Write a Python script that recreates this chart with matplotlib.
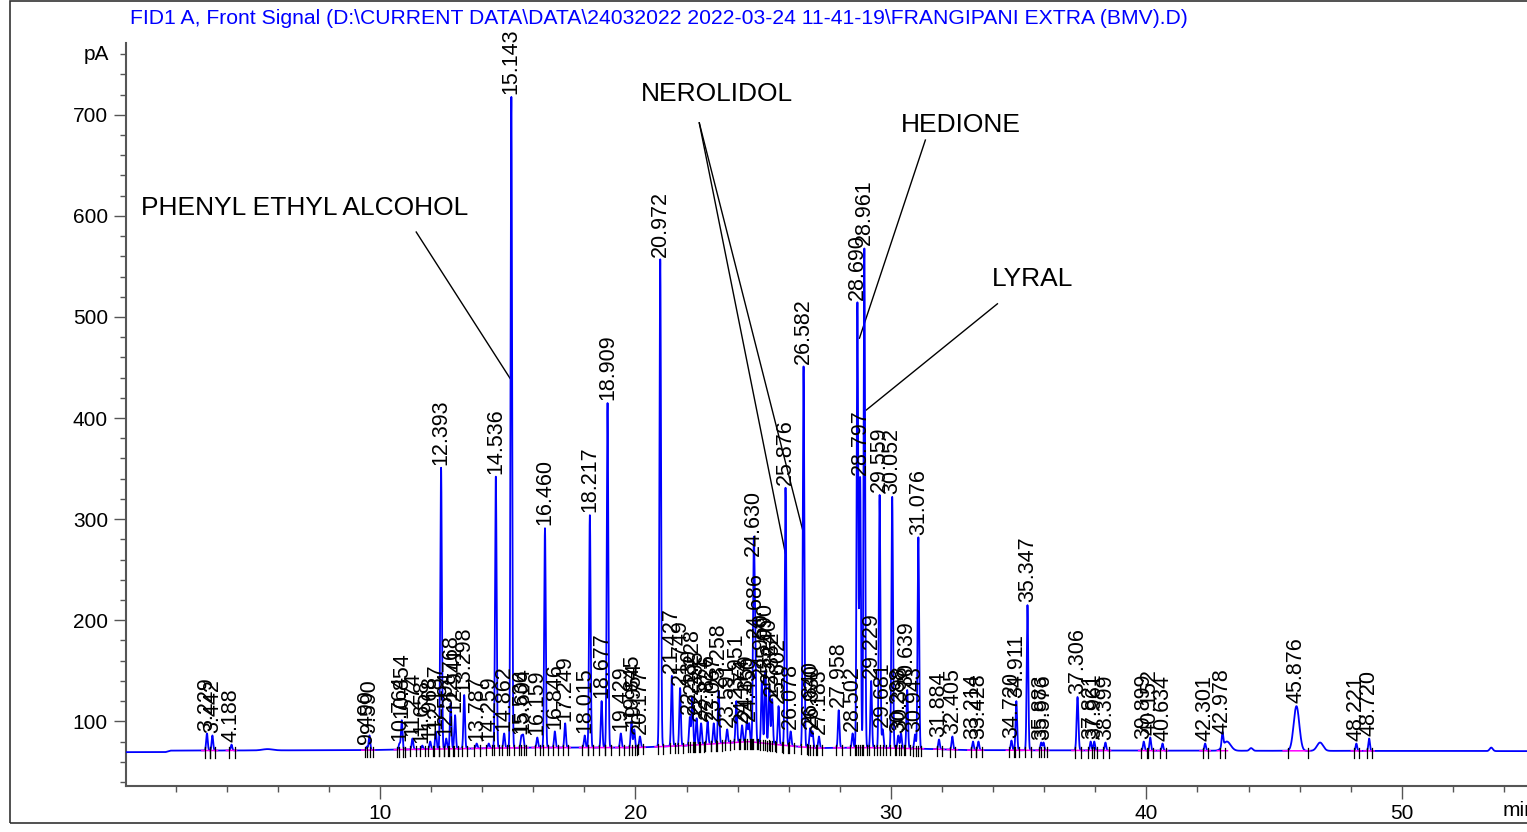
import numpy as np
import matplotlib.pyplot as plt
from matplotlib.patches import Rectangle
from matplotlib.ticker import MultipleLocator

plt.rcParams['font.family'] = ['Liberation Sans', 'DejaVu Sans']

title = "FID1 A, Front Signal (D:\\CURRENT DATA\\DATA\\24032022 2022-03-24 11-41-19\\FRANGIPANI EXTRA (BMV).D)"

# labelled peaks: retention time (min), apex (pA)
peak_rt = [3.229, 3.442, 4.188, 9.490, 9.590, 10.764, 10.854, 11.274, 11.658, 11.968,
           12.187, 12.393, 12.594, 12.768, 12.941, 13.298, 13.787, 14.259, 14.536, 14.862,
           15.143, 15.536, 15.604, 16.159, 16.460, 16.846, 17.249, 18.015, 18.217, 18.677,
           18.909, 19.429, 19.845, 19.954, 20.177, 20.972, 21.427, 21.749, 22.130, 22.228,
           22.395, 22.571, 22.826, 23.067, 23.258, 23.591, 23.951, 24.174, 24.359, 24.450,
           24.630, 24.686, 24.950, 25.090, 25.240, 25.352, 25.602, 25.876, 26.078, 26.582,
           26.840, 26.930, 27.183, 27.958, 28.502, 28.690, 28.797, 28.961, 29.229, 29.559,
           29.681, 30.052, 30.288, 30.398, 30.639, 30.943, 31.076, 31.884, 32.405, 33.214,
           33.428, 34.720, 34.911, 35.347, 35.883, 35.976, 37.306, 37.821, 37.961, 38.399,
           39.899, 40.152, 40.634, 42.301, 42.978, 45.876, 48.221, 48.720]
peak_h = [88, 86, 77, 75, 86, 78, 101, 83, 76, 80,
          90, 351, 83, 118, 106, 126, 78, 78, 342, 88,
          718, 85, 86, 84, 291, 90, 98, 86, 304, 120,
          415, 88, 100, 92, 85, 557, 145, 133, 104, 124,
          103, 98, 100, 98, 130, 92, 120, 96, 100, 98,
          261, 180, 140, 150, 135, 122, 115, 331, 90, 451,
          93, 90, 85, 111, 88, 514, 341, 568, 140, 324,
          92, 322, 86, 88, 131, 87, 282, 82, 85, 80,
          80, 81, 120, 215, 79, 79, 124, 80, 80, 79,
          80, 84, 78, 78, 85, 115, 78, 83]
peak_w = [0.03] * len(peak_rt)
peak_w[peak_rt.index(45.876)] = 0.11
peak_w[peak_rt.index(37.306)] = 0.035

# unlabelled bumps
bump_rt = [5.6, 43.15, 44.1, 46.8, 53.5]
bump_h = [72.5, 80, 73.5, 79, 74]
bump_w = [0.2, 0.15, 0.06, 0.12, 0.06]

# detector baseline knots (min, pA)
base_t = [0, 1.6, 1.8, 9.5, 12, 16, 20, 22, 24.4, 25.5, 27, 29, 31, 33, 40, 55]
base_v = [69.5, 69.5, 71, 71.5, 72.5, 74, 74, 76, 80, 77, 73.5, 74, 73, 71.5, 71, 70.5]

t = np.arange(0, 55, 0.002)
base = np.interp(t, base_t, base_v)
sig = base.copy()
for rt, h, w in zip(peak_rt + bump_rt, peak_h + bump_h, peak_w + bump_w):
    amp = h - np.interp(rt, base_t, base_v)
    sig += amp * np.exp(-0.5 * ((t - rt) / w) ** 2)

fig = plt.figure(figsize=(15.27, 8.32), dpi=100)
fig.patches.append(Rectangle((10 / 1527, 9 / 832), 1.0, 822 / 832, transform=fig.transFigure,
                             fill=False, edgecolor='#333333', lw=1.2))
ax = fig.add_axes([126 / 1527, 46 / 832, 1 - 126 / 1527, (786 - 43) / 832])

ax.plot(t, sig, color='#0000ff', lw=1.3, zorder=3)

# integration baselines and marks
mask = np.zeros_like(t, dtype=bool)
for rt, w in zip(peak_rt, peak_w):
    mask |= np.abs(t - rt) < 4 * w + 0.08
ax.plot(t, np.where(mask, base, np.nan), color='#ff00ff', lw=1.1, zorder=4)
for rt, w in zip(peak_rt, peak_w):
    b = np.interp(rt, base_t, base_v)
    for m in (rt - 3 * w, rt + 4 * w):
        ax.plot([m, m], [b - 7, b + 3], color='black', lw=0.9, zorder=5)

for rt, h in zip(peak_rt, peak_h):
    ax.annotate(f"{rt:.3f}", (rt, h), xytext=(0, 2), textcoords='offset points',
                rotation=90, ha='center', va='bottom', fontsize=15.5, zorder=6)

# compound annotations
ax.text(0.64, 608, "PHENYL ETHYL ALCOHOL", fontsize=19, va='center')
ax.plot([11.42, 15.1], [584, 439], color='black', lw=1)
ax.text(20.23, 721, "NEROLIDOL", fontsize=19, va='center')
ax.plot([22.5, 25.87], [692, 266], color='black', lw=1)
ax.plot([22.5, 26.58], [692, 286], color='black', lw=1)
ax.text(30.41, 690, "HEDIONE", fontsize=19, va='center')
ax.plot([31.35, 28.77], [675, 479], color='black', lw=1)
ax.text(33.97, 538, "LYRAL", fontsize=19, va='center')
ax.plot([34.17, 29.04], [513, 408], color='black', lw=1)

ax.set_xlim(0.06, 54.9)
ax.set_ylim(36, 771)
for s in ('top', 'right'):
    ax.spines[s].set_visible(False)
for s in ('left', 'bottom'):
    ax.spines[s].set_color('#555555')
    ax.spines[s].set_linewidth(1.5)
ax.xaxis.set_major_locator(MultipleLocator(10))
ax.xaxis.set_minor_locator(MultipleLocator(2))
ax.yaxis.set_major_locator(MultipleLocator(100))
ax.yaxis.set_minor_locator(MultipleLocator(20))
ax.set_yticks([100, 200, 300, 400, 500, 600, 700])
ax.tick_params(axis='both', which='major', labelsize=15, length=9, width=1, color='#555555', pad=4)
ax.tick_params(axis='both', which='minor', length=4.5, width=1, color='#555555')
ax.text(-0.6, 760, "pA", fontsize=15, ha='right', va='center')

fig.text(130 / 1527, 1 - 19 / 832, title, color='#0000ff', fontsize=15.2, va='center')
fig.text(1503 / 1527, 1 - 811 / 832, "min", fontsize=15, va='center')

fig.savefig("out.png", dpi=100)
